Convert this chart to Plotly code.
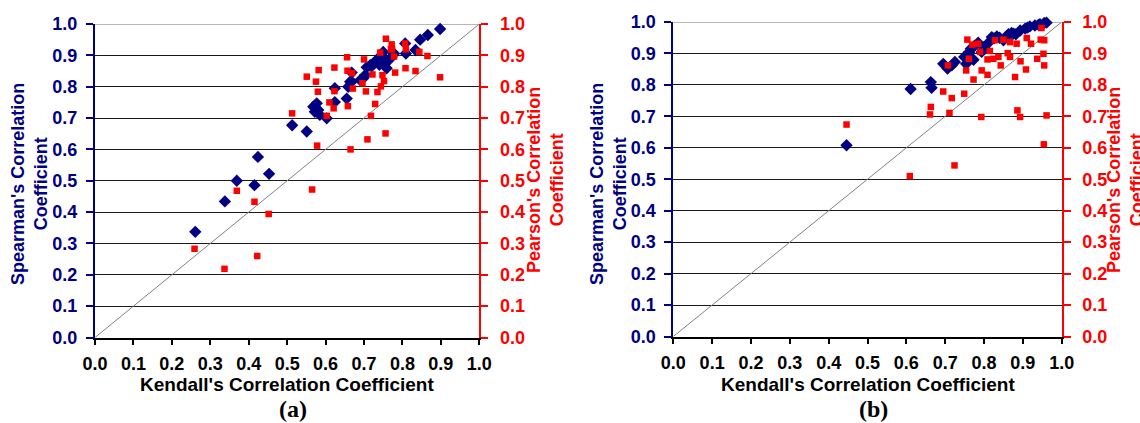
import plotly.graph_objects as go

# ---------------- data: panel (a) ----------------
a_kendall_s = [0.898, 0.866, 0.846, 0.834, 0.807, 0.809, 0.778, 0.768, 0.750, 0.741,
               0.733, 0.724, 0.716, 0.707, 0.759, 0.755, 0.772, 0.703, 0.698, 0.668,
               0.668, 0.659, 0.655, 0.624, 0.624, 0.603, 0.577, 0.568, 0.581, 0.585,
               0.572, 0.551, 0.513, 0.453, 0.424, 0.415, 0.369, 0.338, 0.261, 0.745,
               0.730, 0.720, 0.760, 0.740, 0.690, 0.664]
a_spearman = [0.984, 0.965, 0.950, 0.917, 0.938, 0.906, 0.906, 0.890, 0.911, 0.890,
              0.885, 0.874, 0.869, 0.862, 0.859, 0.874, 0.895, 0.837, 0.827, 0.845,
              0.816, 0.800, 0.762, 0.795, 0.751, 0.699, 0.747, 0.736, 0.726, 0.710,
              0.720, 0.657, 0.677, 0.522, 0.576, 0.486, 0.500, 0.434, 0.337, 0.900,
              0.880, 0.865, 0.880, 0.870, 0.821, 0.816]

a_kendall_p = [0.757, 0.772, 0.773, 0.807, 0.809, 0.742, 0.778, 0.844, 0.865, 0.700,
               0.656, 0.623, 0.582, 0.551, 0.575, 0.580, 0.623, 0.657, 0.669, 0.671,
               0.696, 0.705, 0.722, 0.748, 0.752, 0.744, 0.735, 0.729, 0.781, 0.808,
               0.834, 0.898, 0.610, 0.621, 0.658, 0.603, 0.513, 0.718, 0.709, 0.756,
               0.578, 0.665, 0.565, 0.369, 0.415, 0.452, 0.422, 0.259, 0.337, 0.770]
a_pearson = [0.953, 0.935, 0.919, 0.938, 0.919, 0.909, 0.896, 0.911, 0.898, 0.887,
             0.894, 0.861, 0.853, 0.832, 0.816, 0.784, 0.786, 0.851, 0.843, 0.794,
             0.811, 0.785, 0.839, 0.837, 0.818, 0.801, 0.783, 0.745, 0.845, 0.859,
             0.850, 0.830, 0.750, 0.731, 0.738, 0.707, 0.715, 0.707, 0.632, 0.651,
             0.612, 0.600, 0.472, 0.468, 0.433, 0.394, 0.260, 0.283, 0.219, 0.920]

# ---------------- data: panel (b) ----------------
b_kendall_s = [0.446, 0.611, 0.663, 0.665, 0.695, 0.706, 0.717, 0.725, 0.749, 0.754,
               0.762, 0.773, 0.785, 0.794, 0.809, 0.820, 0.833, 0.850, 0.863, 0.871,
               0.882, 0.893, 0.906, 0.918, 0.931, 0.944, 0.955, 0.961, 0.756, 0.766,
               0.776, 0.826, 0.840, 0.876, 0.912, 0.940, 0.800, 0.858]
b_spearman = [0.608, 0.787, 0.809, 0.791, 0.867, 0.852, 0.862, 0.873, 0.889, 0.867,
              0.905, 0.880, 0.934, 0.905, 0.931, 0.952, 0.954, 0.942, 0.961, 0.965,
              0.961, 0.973, 0.979, 0.986, 0.989, 0.993, 0.997, 0.998, 0.895, 0.915,
              0.925, 0.948, 0.950, 0.963, 0.982, 0.991, 0.920, 0.955]

b_kendall_p = [0.446, 0.609, 0.724, 0.663, 0.661, 0.711, 0.695, 0.717, 0.749, 0.707,
               0.773, 0.754, 0.761, 0.757, 0.770, 0.785, 0.790, 0.794, 0.809, 0.793,
               0.815, 0.809, 0.824, 0.837, 0.843, 0.828, 0.850, 0.867, 0.884, 0.861,
               0.867, 0.894, 0.880, 0.908, 0.910, 0.921, 0.948, 0.946, 0.955, 0.953,
               0.937, 0.955, 0.886, 0.893, 0.961, 0.954]
b_pearson = [0.674, 0.510, 0.544, 0.730, 0.706, 0.711, 0.779, 0.758, 0.772, 0.862,
             0.817, 0.846, 0.883, 0.944, 0.928, 0.931, 0.905, 0.846, 0.832, 0.698,
             0.908, 0.881, 0.883, 0.889, 0.862, 0.942, 0.944, 0.936, 0.931, 0.901,
             0.889, 0.875, 0.825, 0.849, 0.949, 0.931, 0.981, 0.944, 0.942, 0.899,
             0.883, 0.862, 0.719, 0.698, 0.703, 0.611]

tick_vals = [i / 10 for i in range(11)]
tick_text = [f"{v:.1f}" for v in tick_vals]

NAVY = "#000080"
RED = "#ff0000"
FONT = "Liberation Sans, Arial, sans-serif"
W, H = 1140, 423

fig = go.Figure()

panels = [
    dict(xs=a_kendall_s, ys=a_spearman, xp=a_kendall_p, yp=a_pearson,
         xa="x", ya="y", ya2="y2", px=(95, 479.3), py=(24, 337.5), label="(a)"),
    dict(xs=b_kendall_s, ys=b_spearman, xp=b_kendall_p, yp=b_pearson,
         xa="x2", ya="y3", ya2="y4", px=(673.3, 1061.7), py=(22, 336.5), label="(b)"),
]

for p in panels:
    fig.add_trace(go.Scatter(x=p["xp"], y=p["yp"], xaxis=p["xa"], yaxis=p["ya2"],
                             mode="markers", showlegend=False, cliponaxis=False,
                             marker=dict(symbol="square", size=6.5, color=RED)))
    fig.add_trace(go.Scatter(x=p["xs"], y=p["ys"], xaxis=p["xa"], yaxis=p["ya"],
                             mode="markers", showlegend=False, cliponaxis=False,
                             marker=dict(symbol="diamond", size=9.5, color=NAVY)))

layout = dict(width=W, height=H, margin=dict(l=0, r=0, t=0, b=0, autoexpand=False),
              paper_bgcolor="white", plot_bgcolor="white", showlegend=False,
              template="none", font=dict(family=FONT))

annotations = []
shapes = []
ax_ids = [("xaxis", "yaxis", "yaxis2", "yaxis5", "x", "y"),
          ("xaxis2", "yaxis3", "yaxis4", "yaxis6", "x2", "y3")]

for p, (xk, yk, y2k, y3k, xr, yr) in zip(panels, ax_ids):
    x0, x1 = p["px"]
    ytop, ybot = p["py"]
    xd = [x0 / W, x1 / W]
    yd = [1 - ybot / H, 1 - ytop / H]
    layout[xk] = dict(domain=xd, range=[0, 1], anchor=yr, tickvals=tick_vals, ticktext=tick_text,
                      automargin=False,
                      showgrid=False, zeroline=False, showline=True, linecolor="black", linewidth=2,
                      ticks="outside", ticklen=5, tickwidth=2, tickcolor="black",
                      ticklabelstandoff=4,
                      tickfont=dict(family=FONT, size=18, color="black", weight="bold"))
    layout[yk] = dict(domain=yd, range=[0, 1], anchor=xr, tickvals=tick_vals, ticktext=tick_text,
                      automargin=False,
                      showgrid=True, gridcolor="#1a1a1a", gridwidth=1, zeroline=False,
                      showline=True, linecolor=NAVY, linewidth=2,
                      ticks="outside", ticklen=7, tickwidth=2, tickcolor=NAVY,
                      ticklabelstandoff=5,
                      tickfont=dict(family=FONT, size=18, color=NAVY, weight="bold"))
    layout[y2k] = dict(range=[0, 1], overlaying=yr, side="right", anchor=xr,
                       tickvals=tick_vals, ticktext=tick_text, automargin=False,
                       showgrid=False, zeroline=False, showline=True, linecolor=RED, linewidth=2,
                       ticks="outside", ticklen=7, tickwidth=2, tickcolor=RED,
                       ticklabelstandoff=8,
                       tickfont=dict(family=FONT, size=18, color=RED, weight="bold"))
    layout[y3k] = dict(range=[0, 1], overlaying=yr, side="right", anchor=xr,
                       tickvals=tick_vals, showticklabels=False, automargin=False,
                       showgrid=False, zeroline=False, showline=False,
                       ticks="inside", ticklen=7, tickwidth=2, tickcolor=RED)
    # diagonal reference y = x
    shapes.append(dict(type="line", xref=xr, yref=yr, x0=0, y0=0, x1=1, y1=1,
                       line=dict(color="#808080", width=1), layer="between"))
    # grey top grid line
    shapes.append(dict(type="line", xref=xr, yref=yr, x0=0, y0=1, x1=1, y1=1,
                       line=dict(color="#a0a0a0", width=1.5), layer="between"))
    cx = (x0 + x1) / 2
    annotations.append(dict(text="Kendall's Correlation Coefficient", xref="paper", yref="paper",
                            x=cx / W, y=1 - 384 / H, xanchor="center", yanchor="middle",
                            showarrow=False,
                            font=dict(family=FONT, size=19, color="black", weight="bold")))
    annotations.append(dict(text=p["label"], xref="paper", yref="paper",
                            x=(cx + 6) / W, y=1 - 409 / H, xanchor="center", yanchor="middle",
                            showarrow=False,
                            font=dict(family="Liberation Serif, Times New Roman, serif",
                                      size=24, color="black", weight="bold")))

title_pos = [("Spearman's Correlation<br>Coefficient", 30, 184, NAVY),
             ("Pearson's Correlation<br>Coefficient", 546, 180, RED),
             ("Spearman's Correlation<br>Coefficient", 609, 184, NAVY),
             ("Pearson's Correlation<br>Coefficient", 1126, 180, RED)]
for txt, tx, ty, col in title_pos:
    annotations.append(dict(text=txt, xref="paper", yref="paper", x=tx / W, y=1 - ty / H,
                            xanchor="center", yanchor="middle", textangle=-90,
                            showarrow=False,
                            font=dict(family=FONT, size=18, color=col, weight="bold")))

layout["annotations"] = annotations
layout["shapes"] = shapes
fig.update_layout(**layout)
fig.write_html("out.html")
